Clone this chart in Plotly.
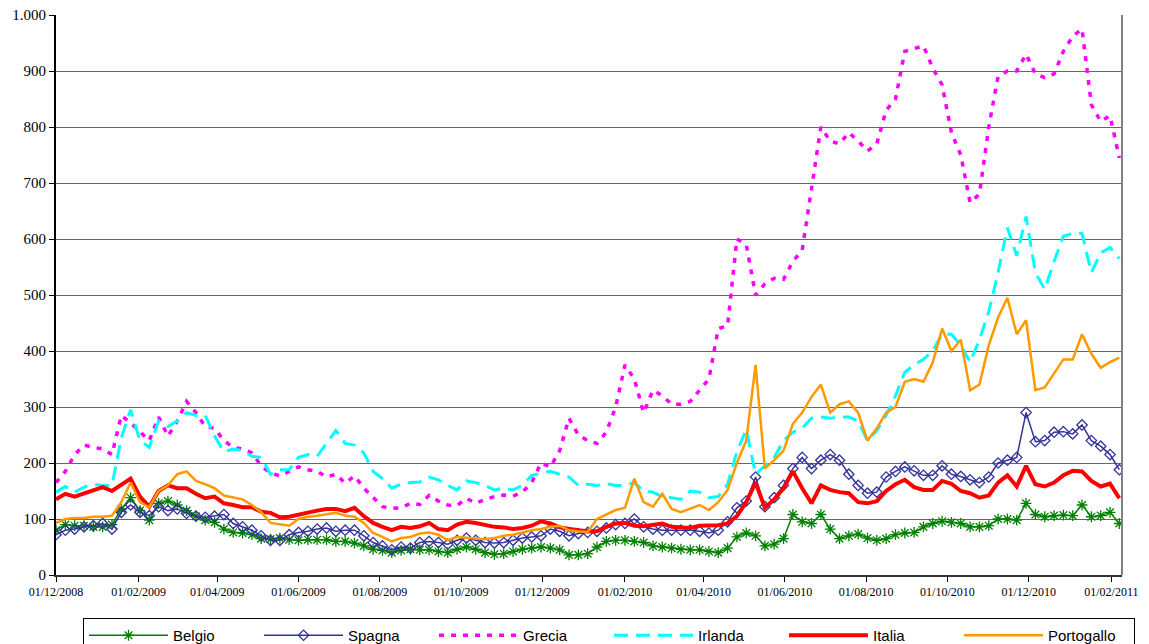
import pandas as pd
import plotly.graph_objects as go

dates = pd.date_range("2008-12-01", periods=115, freq="7D")

belgio = [80, 90, 88, 88, 86, 86, 90, 118, 138, 115, 98, 128, 132, 125, 115, 105, 98, 94, 82, 76,
          75, 72, 65, 64, 66, 63, 62, 63, 63, 63, 60, 60, 57, 52, 46, 44, 40, 44, 46, 45,
          45, 42, 40, 46, 50, 46, 40, 37, 38, 42, 46, 48, 50, 48, 45, 36, 36, 38, 50, 60,
          62, 62, 60, 58, 52, 50, 48, 46, 45, 45, 42, 40, 48, 68, 75, 70, 52, 55, 65, 108,
          95, 92, 108, 82, 65, 70, 73, 66, 62, 65, 72, 75, 76, 86, 92, 96, 94, 92, 86, 86,
          88, 100, 100, 98, 128, 108, 104, 106, 107, 106, 125, 104, 106, 112, 92]

spagna = [72, 80, 82, 86, 88, 92, 82, 112, 125, 112, 106, 122, 115, 118, 110, 105, 103, 105, 108, 92,
          86, 80, 70, 62, 62, 72, 76, 78, 82, 84, 78, 80, 80, 70, 58, 52, 45, 50, 48, 58,
          60, 58, 55, 62, 66, 62, 58, 57, 58, 62, 66, 68, 70, 82, 78, 70, 74, 76, 78, 84,
          90, 92, 100, 86, 82, 80, 80, 80, 80, 78, 75, 80, 95, 120, 132, 175, 122, 138, 160, 190,
          210, 190, 205, 215, 205, 180, 160, 146, 148, 175, 185, 193, 186, 178, 178, 195, 180, 176, 170, 165,
          175, 200, 205, 210, 290, 238, 240, 255, 256, 252, 268, 240, 230, 215, 188]

grecia = [165, 185, 215, 232, 228, 225, 215, 285, 272, 255, 240, 282, 248, 275, 310, 290, 265, 262, 240, 228,
          225, 218, 195, 182, 177, 185, 193, 188, 185, 175, 180, 164, 177, 155, 138, 122, 119, 120, 128, 126,
          142, 132, 125, 124, 137, 128, 135, 140, 143, 141, 148, 165, 200, 193, 222, 280, 250, 240, 235, 255,
          300, 375, 350, 290, 330, 320, 305, 305, 310, 330, 350, 440, 445, 600, 590, 500, 520, 530, 528, 560,
          580, 690, 800, 775, 770, 790, 775, 757, 770, 830, 850, 935, 940, 945, 905, 875, 790, 750, 665, 680,
          800, 890, 900, 900, 930, 895, 888, 895, 935, 962, 975, 840, 810, 820, 745]

irlanda = [148, 158, 148, 157, 162, 160, 160, 245, 295, 240, 228, 275, 265, 275, 290, 285, 285, 248, 220, 225,
           222, 212, 210, 180, 188, 188, 210, 215, 212, 235, 258, 235, 232, 218, 185, 172, 155, 162, 165, 166,
           175, 170, 160, 152, 168, 165, 160, 152, 155, 152, 160, 178, 182, 185, 180, 175, 160, 162, 160, 163,
           160, 160, 165, 150, 148, 140, 138, 135, 150, 148, 138, 140, 162, 220, 260, 180, 195, 210, 240, 255,
           262, 280, 282, 280, 282, 282, 275, 240, 258, 285, 320, 362, 375, 385, 400, 430, 430, 410, 380, 420,
           470, 540, 620, 570, 640, 540, 510, 560, 605, 610, 610, 540, 575, 585, 565]

italia = [135, 145, 140, 146, 152, 157, 150, 160, 172, 140, 122, 150, 160, 155, 155, 145, 137, 140, 128, 125,
          121, 121, 113, 111, 103, 104, 108, 112, 115, 118, 118, 114, 120, 105, 93, 86, 80, 86, 84, 87,
          93, 82, 80, 90, 95, 93, 90, 86, 85, 82, 84, 88, 96, 92, 85, 82, 80, 78, 78, 86,
          92, 93, 88, 87, 90, 92, 86, 85, 84, 88, 89, 89, 92, 105, 130, 165, 120, 135, 155, 185,
          155, 128, 160, 152, 148, 146, 130, 128, 132, 150, 162, 170, 157, 152, 152, 168, 163, 150, 146, 138,
          142, 165, 178, 158, 195, 162, 158, 165, 178, 186, 185, 168, 158, 163, 137]

portogallo = [93, 100, 102, 102, 104, 104, 106, 130, 165, 130, 121, 150, 160, 180, 185, 168, 162, 155, 142, 139,
              135, 125, 112, 93, 90, 88, 100, 104, 106, 108, 111, 106, 104, 93, 75, 68, 60, 66, 68, 74,
              76, 72, 62, 68, 67, 65, 64, 66, 70, 72, 76, 80, 82, 86, 88, 80, 78, 77, 100, 108,
              116, 120, 172, 130, 122, 145, 118, 112, 118, 125, 116, 130, 152, 200, 240, 375, 190, 205, 222, 270,
              290, 318, 340, 290, 305, 310, 290, 240, 262, 290, 300, 345, 350, 345, 380, 440, 400, 420, 330, 340,
              410, 460, 495, 430, 455, 330, 335, 360, 385, 385, 430, 395, 370, 380, 388]

tick_dates = ["2008-12-01", "2009-02-01", "2009-04-01", "2009-06-01", "2009-08-01", "2009-10-01",
              "2009-12-01", "2010-02-01", "2010-04-01", "2010-06-01", "2010-08-01", "2010-10-01",
              "2010-12-01", "2011-02-01"]
tick_labels = ["01/12/2008", "01/02/2009", "01/04/2009", "01/06/2009", "01/08/2009", "01/10/2009",
               "01/12/2009", "01/02/2010", "01/04/2010", "01/06/2010", "01/08/2010", "01/10/2010",
               "01/12/2010", "01/02/2011"]

# the page places the figure 8px from the top-left corner
W, H = 1141, 636

fig = go.Figure()
fig.add_trace(go.Scatter(x=dates, y=belgio, name="Belgio", mode="lines+markers",
                         line=dict(color="#008000", width=1.5),
                         marker=dict(symbol="asterisk-open", size=9, color="#008000",
                                     line=dict(color="#008000", width=1.3))))
fig.add_trace(go.Scatter(x=dates, y=spagna, name="Spagna", mode="lines+markers",
                         line=dict(color="#333399", width=1.5),
                         marker=dict(symbol="diamond-open", size=8, color="#333399",
                                     line=dict(color="#333399", width=1.3))))
fig.add_trace(go.Scatter(x=dates, y=grecia, name="Grecia", mode="lines",
                         line=dict(color="#FF00FF", width=3.5, dash="5px,7px")))
fig.add_trace(go.Scatter(x=dates, y=irlanda, name="Irlanda", mode="lines",
                         line=dict(color="#00FFFF", width=3, dash="14px,8px")))
fig.add_trace(go.Scatter(x=dates, y=italia, name="Italia", mode="lines",
                         line=dict(color="#FF0000", width=4)))
fig.add_trace(go.Scatter(x=dates, y=portogallo, name="Portogallo", mode="lines",
                         line=dict(color="#FF9900", width=2.5)))

fig.update_layout(
    width=W, height=H,
    margin=dict(l=48, r=27, t=7, b=69, autoexpand=False),
    paper_bgcolor="white", plot_bgcolor="white",
    separators=",.",
    showlegend=True,
    legend=dict(orientation="h", xref="container", yref="container",
                x=75 / W, xanchor="left", y=1 - 610 / H, yanchor="top",
                bordercolor="black", borderwidth=1,
                font=dict(family="Liberation Sans Narrow, Liberation Sans, Arial", size=15, color="black"),
                entrywidth=81, entrywidthmode="pixels", itemwidth=79),
    shapes=[dict(type="line", xref="paper", yref="paper", x0=1, x1=1, y0=0, y1=1,
                 line=dict(color="#808080", width=2))],
)
fig.update_xaxes(type="date", range=["2008-12-01", "2011-02-09"],
                 tickvals=tick_dates, ticktext=tick_labels,
                 tickfont=dict(family="Liberation Serif, Times New Roman", size=12, color="black"),
                 ticks="outside", ticklen=5, tickcolor="black",
                 showline=True, linecolor="#333333", linewidth=2, showgrid=False, zeroline=False)
fig.update_yaxes(range=[0, 1000], dtick=100, tickformat=",d", ticklabeloverflow="allow",
                 tickfont=dict(family="Liberation Serif, Times New Roman", size=15, color="black"),
                 ticks="outside", ticklen=5, tickcolor="black",
                 showline=True, linecolor="black", linewidth=2,
                 showgrid=True, gridcolor="#666666", gridwidth=1, zeroline=False)

fig.write_html("out.html")
